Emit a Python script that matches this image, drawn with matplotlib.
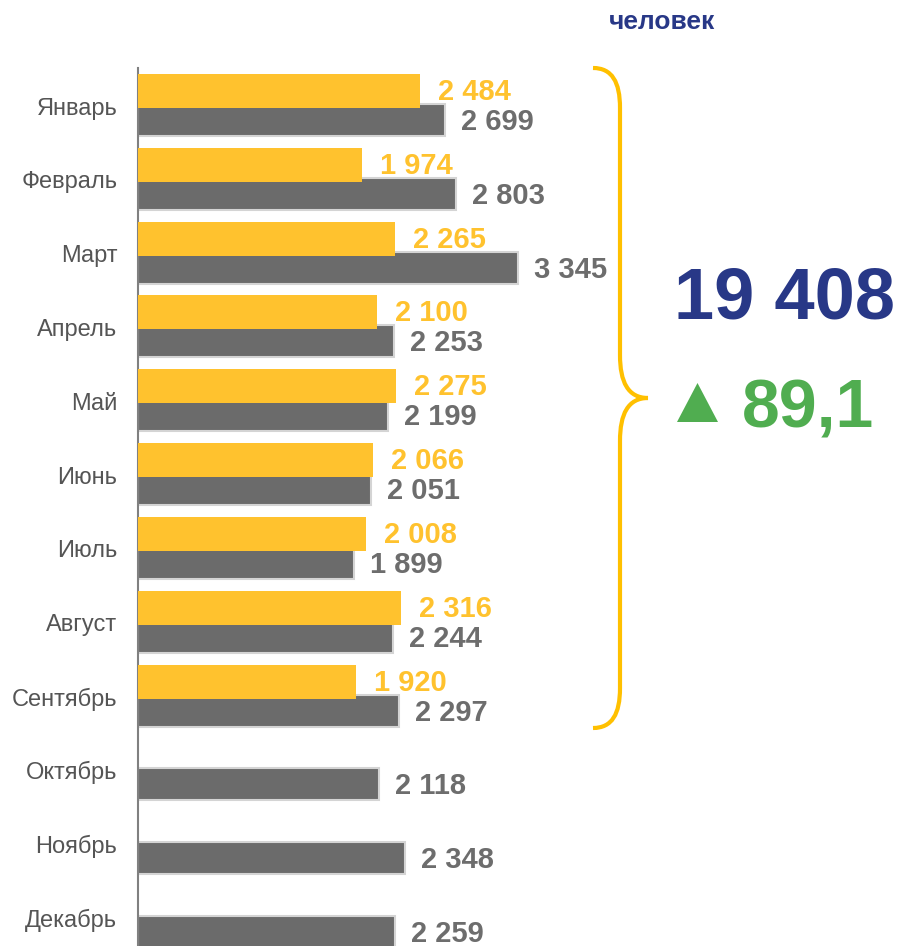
import matplotlib
matplotlib.use("Agg")
import matplotlib.pyplot as plt
from matplotlib.path import Path
from matplotlib.patches import PathPatch, Polygon

plt.rcParams['font.family'] = ['Liberation Sans', 'DejaVu Sans']

months = ["Январь", "Февраль", "Март", "Апрель", "Май", "Июнь", "Июль",
          "Август", "Сентябрь", "Октябрь", "Ноябрь", "Декабрь"]
current = [2484, 1974, 2265, 2100, 2275, 2066, 2008, 2316, 1920]
previous = [2699, 2803, 3345, 2253, 2199, 2051, 1899, 2244, 2297, 2118, 2348, 2259]
unit_label = "человек"

YELLOW = "#FFC22E"
GRAY = "#6B6B6B"
NAVY = "#283887"
GREEN = "#50AD50"

W, H = 902, 946
fig = plt.figure(figsize=(W / 100, H / 100), dpi=100)

def fx(x):
    return x / W

def fy(y):
    return 1 - y / H

ax = fig.add_axes([fx(138), 0, fx(900) - fx(138), fy(68)])
scale = (518 - 138) / 3345.0
ax.set_xlim(0, (900 - 138) / scale)
ax.set_ylim(11.38, -0.515)

n_cur = len(current)
ypos_all = list(range(len(months)))
ax.barh([i + 0.19 for i in ypos_all], previous, height=0.434, color=GRAY,
        edgecolor="#D4D4D4", linewidth=1.5, zorder=2)
ax.barh([i - 0.203 for i in range(n_cur)], current, height=0.46, color=YELLOW,
        edgecolor="none", zorder=3)

for i, v in enumerate(previous):
    ax.annotate(f"{v:,}".replace(",", " "), xy=(v, i + 0.19), xytext=(16, -10),
                textcoords="offset pixels", ha="left", va="baseline",
                fontsize=21, fontweight="bold", color="#6D6D6D", zorder=4)
for i, v in enumerate(current):
    ax.annotate(f"{v:,}".replace(",", " "), xy=(v, i - 0.203), xytext=(18, -9),
                textcoords="offset pixels", ha="left", va="baseline",
                fontsize=21, fontweight="bold", color=YELLOW, zorder=5)

ax.set_yticks(ypos_all)
ax.set_yticklabels(months, fontsize=17, color="#555555")
ax.tick_params(axis="y", length=0, pad=15)
ax.set_xticks([])
for s in ["top", "right", "bottom"]:
    ax.spines[s].set_visible(False)
ax.spines["left"].set_color("#808080")
ax.spines["left"].set_linewidth(1.5)

# unit label
fig.text(fx(662), fy(29), unit_label, ha="center", va="baseline",
         fontsize=19, fontweight="bold", color=NAVY)

# curly brace
pts = [(593, 68), (612, 68), (620, 82), (620, 108),
       (620, 355),
       (620, 382), (628, 398), (648, 398),
       (628, 398), (620, 414), (620, 441),
       (620, 688),
       (620, 714), (612, 728), (593, 728)]
codes = [Path.MOVETO, Path.CURVE4, Path.CURVE4, Path.CURVE4,
         Path.LINETO,
         Path.CURVE4, Path.CURVE4, Path.CURVE4,
         Path.CURVE4, Path.CURVE4, Path.CURVE4,
         Path.LINETO,
         Path.CURVE4, Path.CURVE4, Path.CURVE4]
path = Path([(fx(x), fy(y)) for x, y in pts], codes)
fig.patches.append(PathPatch(path, transform=fig.transFigure, facecolor="none",
                             edgecolor="#FFC000", linewidth=3, capstyle="butt"))

total = sum(current)
ratio = total / sum(previous[:n_cur]) * 100
fig.text(fx(784), fy(318), f"{total:,}".replace(",", " "), ha="center", va="baseline",
         fontsize=52, fontweight="bold", color=NAVY)

tri = Polygon([(fx(677), fy(422)), (fx(718), fy(422)), (fx(697.5), fy(383))],
              closed=True, transform=fig.transFigure, facecolor=GREEN, edgecolor="none")
fig.patches.append(tri)
fig.text(fx(742), fy(427), f"{ratio:.1f}".replace(".", ","), ha="left", va="baseline",
         fontsize=49, fontweight="bold", color=GREEN)

fig.savefig("out.png", dpi=100)
